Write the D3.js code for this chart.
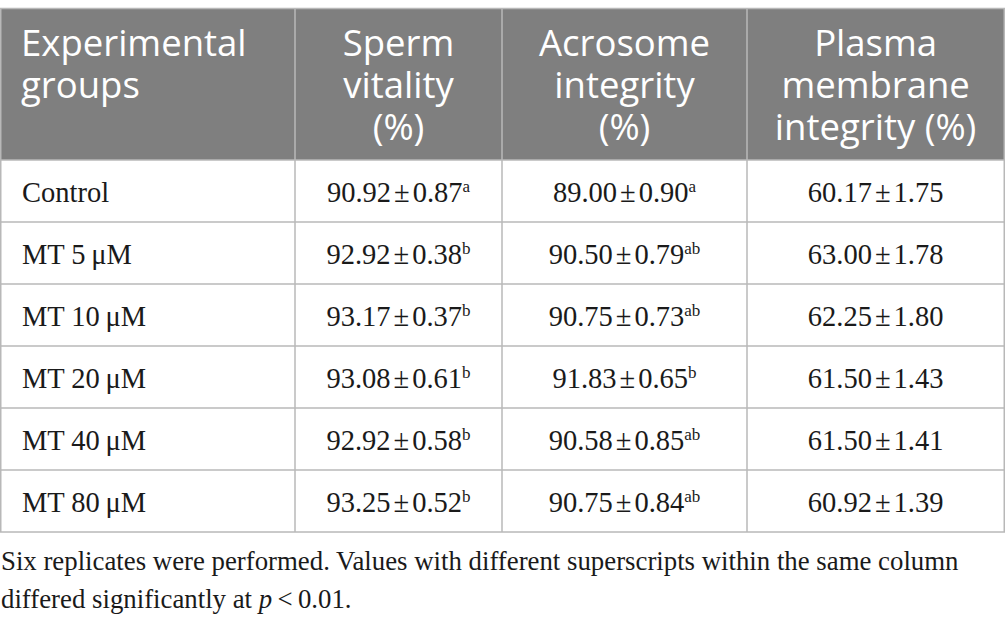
<!DOCTYPE html>
<html>
<head>
<meta charset="utf-8">
<script src="https://cdn.jsdelivr.net/npm/d3@7"></script>
<style>
  html, body { margin: 0; padding: 0; background: #fff; }
  svg { display: block; }
</style>
</head>
<body>
<div id="chart"></div>
<script>
// table data
var groups = ["Control", "MT 5 μM", "MT 10 μM", "MT 20 μM", "MT 40 μM", "MT 80 μM"];
var headers = [
  ["Experimental", "groups"],
  ["Sperm", "vitality", "(%)"],
  ["Acrosome", "integrity", "(%)"],
  ["Plasma", "membrane", "integrity (%)"]
];
var vitalityMean = [90.92, 92.92, 93.17, 93.08, 92.92, 93.25];
var vitalitySd = [0.87, 0.38, 0.37, 0.61, 0.58, 0.52];
var vitalitySup = ["a", "b", "b", "b", "b", "b"];
var acrosomeMean = [89.00, 90.50, 90.75, 91.83, 90.58, 90.75];
var acrosomeSd = [0.90, 0.79, 0.73, 0.65, 0.85, 0.84];
var acrosomeSup = ["a", "ab", "ab", "b", "ab", "ab"];
var membraneMean = [60.17, 63.00, 62.25, 61.50, 61.50, 60.92];
var membraneSd = [1.75, 1.78, 1.80, 1.43, 1.41, 1.39];
var membraneSup = ["", "", "", "", "", ""];
var footnote = [
  "Six replicates were performed. Values with different superscripts within the same column",
  "differed significantly at "
];

var width = 1005, height = 626;
var colEdges = [0.75, 295, 502, 747, 1004.25];
var headTop = 8.5, headBottom = 160, tableBottom = 532;
var lineColor = "#b8b8b8";
var fmt = d3.format(".2f");

var svg = d3.select("#chart").append("svg")
  .attr("width", width)
  .attr("height", height);

var y = d3.scaleBand()
  .domain(d3.range(groups.length))
  .range([headBottom, tableBottom]);

var series = [
  { mean: vitalityMean, sd: vitalitySd, sup: vitalitySup },
  { mean: acrosomeMean, sd: acrosomeSd, sup: acrosomeSup },
  { mean: membraneMean, sd: membraneSd, sup: membraneSup }
];

// header background
svg.append("rect")
  .attr("x", colEdges[0]).attr("y", headTop)
  .attr("width", colEdges[4] - colEdges[0])
  .attr("height", headBottom - headTop)
  .attr("fill", "#7f7f7f");

// header text, one text per line
var head = svg.append("g")
  .attr("font-family", "'Open Sans', sans-serif")
  .attr("font-size", 36.5)
  .attr("fill", "#fff");

headers.forEach(function (lines, i) {
  var left = i === 0;
  lines.forEach(function (s, k) {
    head.append("text")
      .attr("text-anchor", left ? "start" : "middle")
      .attr("x", left ? 21 : (colEdges[i] + colEdges[i + 1]) / 2)
      .attr("y", 56 + k * 42)
      .text(s);
  });
});

// body
var body = svg.append("g")
  .attr("font-family", "'Liberation Serif', 'Times New Roman', serif")
  .attr("font-size", 28.5)
  .attr("fill", "#1a1a1a");

groups.forEach(function (g, r) {
  var base = y(r) + y.bandwidth() / 2 + 11;
  body.append("text")
    .attr("x", 22).attr("y", base)
    .text(g.replace(" μM", "\u2009μM"));
  series.forEach(function (s, c) {
    var t = body.append("text")
      .attr("x", (colEdges[c + 1] + colEdges[c + 2]) / 2)
      .attr("y", base)
      .attr("text-anchor", "middle");
    t.append("tspan").text(fmt(s.mean[r]));
    t.append("tspan").attr("dx", 3).text("±");
    t.append("tspan").attr("dx", 3).text(fmt(s.sd[r]));
    if (s.sup[r]) {
      t.append("tspan")
        .attr("font-size", 17)
        .attr("dy", -10)
        .text(s.sup[r]);
    }
  });
});

// grid lines
var grid = svg.append("g")
  .attr("stroke", lineColor)
  .attr("stroke-width", 1.5)
  .attr("fill", "none");

grid.append("rect")
  .attr("x", colEdges[0]).attr("y", headTop)
  .attr("width", colEdges[4] - colEdges[0])
  .attr("height", tableBottom - headTop);

grid.selectAll("line.h")
  .data(d3.range(groups.length))
  .enter().append("line")
  .attr("class", "h")
  .attr("x1", colEdges[0]).attr("x2", colEdges[4])
  .attr("y1", function (d) { return y(d); })
  .attr("y2", function (d) { return y(d); });

grid.selectAll("line.v")
  .data(colEdges.slice(1, 4))
  .enter().append("line")
  .attr("class", "v")
  .attr("x1", function (d) { return d; })
  .attr("x2", function (d) { return d; })
  .attr("y1", headTop).attr("y2", tableBottom);

// footnote
var foot = svg.append("g")
  .attr("font-family", "'Liberation Serif', 'Times New Roman', serif")
  .attr("font-size", 26.8)
  .attr("fill", "#1a1a1a");

foot.append("text").attr("x", 1).attr("y", 570).text(footnote[0]);
var f2 = foot.append("text").attr("x", 1).attr("y", 608);
f2.append("tspan").text(footnote[1]);
f2.append("tspan").attr("font-style", "italic").text("p");
f2.append("tspan").text("\u2009<\u20090.01.");
</script>
</body>
</html>
